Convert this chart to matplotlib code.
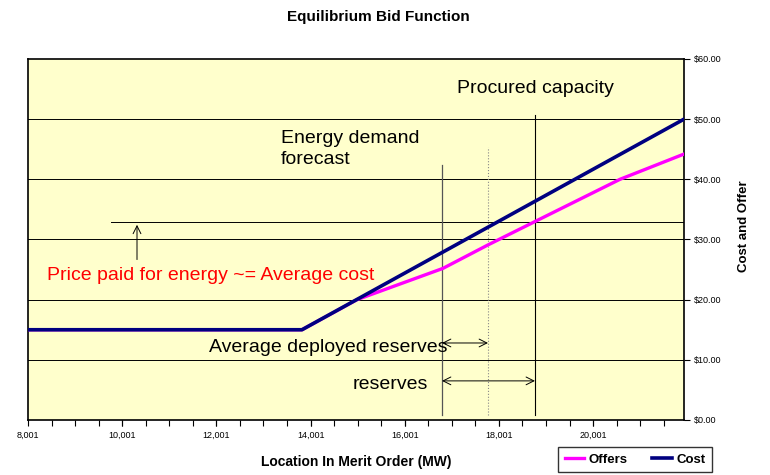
import matplotlib.pyplot as plt
from matplotlib.ticker import FuncFormatter, MultipleLocator

plt.rcParams['font.family'] = ['Liberation Sans', 'DejaVu Sans']

# merit order location (MW) and $ values
cost_mw = [8001, 13818, 21930]
cost_usd = [15.0, 15.0, 50.0]

offer_mw = [8001, 13818, 14986, 16812, 17768, 18744, 20570, 21930]
offer_usd = [15.0, 15.0, 20.0, 25.2, 29.1, 32.9, 40.0, 44.2]

x_ticks = [8001, 10001, 12001, 14001, 16001, 18001, 20001]
y_ticks = [0, 10, 20, 30, 40, 50, 60]

# marker lines
demand_mw = 16791
deployed_mw = 17768
procured_mw = 18765
price_level = 32.9

fig = plt.figure(figsize=(7.7, 4.75), dpi=100)
ax = fig.add_axes([0.0364, 0.1158, 0.8519, 0.76])
ax.set_facecolor('#FFFFCC')

ax.set_xlim(8001, 21930)
ax.set_ylim(0, 60)

for y in y_ticks[1:-1]:
    ax.axhline(y, color='black', lw=0.7, zorder=1)

ax.plot([9763, 21930], [price_level, price_level], color='black', lw=0.7, zorder=1)
ax.annotate('', xy=(10315, price_level), xytext=(10315, 26.2),
            arrowprops=dict(arrowstyle='->', color='black', lw=0.7, mutation_scale=14))

ax.plot([demand_mw, demand_mw], [0.8, 42.4], color='#555555', lw=0.9, zorder=1)
ax.plot([deployed_mw, deployed_mw], [0.8, 45.3], color='#888888', lw=0.8, ls=':', zorder=1)
ax.plot([procured_mw, procured_mw], [0.8, 50.7], color='black', lw=0.8, zorder=1)

ax.annotate('', xy=(deployed_mw, 12.8), xytext=(demand_mw, 12.8),
            arrowprops=dict(arrowstyle='<->', color='black', lw=0.7, mutation_scale=14,
                            shrinkA=0, shrinkB=0))
ax.annotate('', xy=(procured_mw, 6.5), xytext=(demand_mw, 6.5),
            arrowprops=dict(arrowstyle='<->', color='black', lw=0.7, mutation_scale=14,
                            shrinkA=0, shrinkB=0))

ax.plot(offer_mw, offer_usd, color='#FF00FF', lw=2.4, label='Offers', zorder=3)
ax.plot(cost_mw, cost_usd, color='#000080', lw=2.6, label='Cost', zorder=4)

ax.text(17109, 55.1, 'Procured capacity', fontsize=14, va='center')
ax.text(13373, 45.0, 'Energy demand\nforecast', fontsize=14, va='center', linespacing=1.3)
ax.text(8404, 24.0, 'Price paid for energy ~= Average cost', fontsize=14, color='red', va='center')
ax.text(11844, 12.0, 'Average deployed reserves', fontsize=14, va='center')
ax.text(14901, 5.9, 'reserves', fontsize=14, va='center')

ax.set_xticks(x_ticks)
ax.xaxis.set_minor_locator(MultipleLocator(500))
ax.xaxis.set_major_formatter(FuncFormatter(lambda v, p: f'{int(v):,}'))
ax.tick_params(axis='x', which='both', direction='out', length=4, width=0.8, labelsize=6.5, pad=4)

ax.yaxis.tick_right()
ax.yaxis.set_label_position('right')
ax.set_yticks(y_ticks)
ax.yaxis.set_major_formatter(FuncFormatter(lambda v, p: f'${v:.2f}'))
ax.tick_params(axis='y', direction='out', length=4, width=0.8, labelsize=6.5, pad=3)

for s in ax.spines.values():
    s.set_linewidth(1.2)

ax.set_xlabel('Location In Merit Order (MW)', fontsize=10, fontweight='bold', labelpad=11)
ax.set_ylabel('Cost and Offer', fontsize=9.5, fontweight='bold', labelpad=12)
ax.yaxis.label.set_y(0.537)
fig.suptitle('Equilibrium Bid Function', fontsize=11, fontweight='bold', x=0.491, y=0.98)

fig.legend(loc='lower right', bbox_to_anchor=(0.933, -0.008), ncol=2,
           frameon=True, fancybox=False, edgecolor='black', handlelength=1.5,
           handletextpad=0.3, columnspacing=1.9, borderpad=0.5,
           prop={'weight': 'bold', 'size': 9.5})

fig.savefig('out.png', dpi=100)
